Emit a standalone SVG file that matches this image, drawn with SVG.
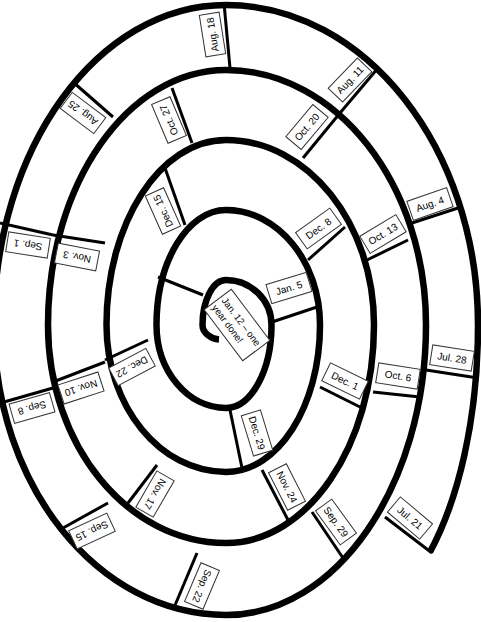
<svg xmlns="http://www.w3.org/2000/svg" width="481" height="622" viewBox="0 0 481 622">
<style>
.sp{fill:none;stroke:#000;stroke-width:6.5;stroke-linecap:butt;stroke-linejoin:round}
.dv{stroke:#000;stroke-width:3;stroke-linecap:butt}
.bx{fill:#fff;stroke:#333;stroke-width:1}
.lb{font-family:"Liberation Sans",Arial,sans-serif;font-size:10px;fill:#000;text-anchor:middle;dominant-baseline:central}
.lb2{font-family:"Liberation Sans",Arial,sans-serif;font-size:9.5px;fill:#000}
</style>
<rect width="481" height="622" fill="#fff"/>
<g id="spiral">
<path class="sp" d="M219,339.5 C211,339 202.5,333 202.5,325 C202.5,300.1 213,280 226,280 C251.1,280 271.5,300.1 271.5,325 C271.5,370.8 251.1,408 226,408 C187.6,408 156.5,370.8 156.5,325 C156.5,261.5 187.6,210 226,210 C277.9,210 320,261.5 320,325 C320,406.2 277.9,472 226,472 C160,472 106.5,406.2 106.5,325 C106.5,222.8 160,140 226,140 C307.7,140 374,222.8 374,325 C374,445.4 307.7,543 226,543 C127.7,543 48,445.4 48,325 C48,184.2 127.7,70 226,70 C336.5,70 426,184.2 426,325 C426,485.2 336.5,615 226,615 C97.9,615 -6,485.2 -6,325 C-6,148.3 97.9,5 226,5 C365.2,5 478,148.3 478,325 C478,420 458,500 430,552"/>
</g>
<g id="dividers">
<line class="dv" x1="385" y1="517" x2="432" y2="553"/>
<line class="dv" x1="426" y1="370" x2="478" y2="378"/>
<line class="dv" x1="412" y1="223" x2="458" y2="208"/>
<line class="dv" x1="378" y1="68" x2="340" y2="113"/>
<line class="dv" x1="340" y1="113" x2="303" y2="158"/>
<line class="dv" x1="224" y1="3" x2="230" y2="68"/>
<line class="dv" x1="73" y1="82" x2="113" y2="117"/>
<line class="dv" x1="172" y1="88" x2="192" y2="143"/>
<line class="dv" x1="0" y1="223" x2="53" y2="235"/>
<line class="dv" x1="53" y1="235" x2="105" y2="243"/>
<line class="dv" x1="165" y1="168" x2="185" y2="225"/>
<line class="dv" x1="158" y1="277" x2="203" y2="295"/>
<line class="dv" x1="105" y1="360" x2="148" y2="340"/>
<line class="dv" x1="53" y1="382" x2="105" y2="362"/>
<line class="dv" x1="4" y1="402" x2="53" y2="388"/>
<line class="dv" x1="63" y1="528" x2="108" y2="503"/>
<line class="dv" x1="157" y1="465" x2="125" y2="507"/>
<line class="dv" x1="197" y1="553" x2="173" y2="610"/>
<line class="dv" x1="230" y1="410" x2="242" y2="468"/>
<line class="dv" x1="262" y1="470" x2="288" y2="520"/>
<line class="dv" x1="312" y1="512" x2="343" y2="558"/>
<line class="dv" x1="320" y1="387" x2="362" y2="408"/>
<line class="dv" x1="373" y1="392" x2="420" y2="397"/>
<line class="dv" x1="367" y1="260" x2="408" y2="240"/>
<line class="dv" x1="308" y1="260" x2="345" y2="227"/>
<line class="dv" x1="272" y1="322" x2="317" y2="307"/>
</g>
<g id="jul21" transform="translate(410,518) rotate(40)"><rect class="bx" x="-21" y="-10" width="42" height="20"/><text class="lb">Jul. 21</text></g>
<g id="jul28" transform="translate(452,358) rotate(9)"><rect class="bx" x="-21" y="-10" width="42" height="20"/><text class="lb">Jul. 28</text></g>
<g id="aug4" transform="translate(430,204) rotate(-19)"><rect class="bx" x="-21" y="-10" width="42" height="20"/><text class="lb">Aug. 4</text></g>
<g id="aug11" transform="translate(350,80) rotate(-46)"><rect class="bx" x="-21" y="-10" width="42" height="20"/><text class="lb">Aug. 11</text></g>
<g id="aug18" transform="translate(212.5,34.5) rotate(-99)"><rect class="bx" x="-21" y="-10" width="42" height="20"/><text class="lb">Aug. 18</text></g>
<g id="aug25" transform="translate(83,113) rotate(217)"><rect class="bx" x="-21" y="-10" width="42" height="20"/><text class="lb">Aug. 25</text></g>
<g id="sep1" transform="translate(28,245) rotate(189)"><rect class="bx" x="-21" y="-10" width="42" height="20"/><text class="lb">Sep. 1</text></g>
<g id="sep8" transform="translate(32,408) rotate(164)"><rect class="bx" x="-21" y="-10" width="42" height="20"/><text class="lb">Sep. 8</text></g>
<g id="sep15" transform="translate(92,531) rotate(155)"><rect class="bx" x="-21" y="-10" width="42" height="20"/><text class="lb">Sep. 15</text></g>
<g id="sep22" transform="translate(202,586) rotate(113)"><rect class="bx" x="-21" y="-10" width="42" height="20"/><text class="lb">Sep. 22</text></g>
<g id="sep29" transform="translate(336,522) rotate(54)"><rect class="bx" x="-21" y="-10" width="42" height="20"/><text class="lb">Sep. 29</text></g>
<g id="oct6" transform="translate(398,376) rotate(9)"><rect class="bx" x="-21" y="-10" width="42" height="20"/><text class="lb">Oct. 6</text></g>
<g id="oct13" transform="translate(383,234) rotate(-31)"><rect class="bx" x="-21" y="-10" width="42" height="20"/><text class="lb">Oct. 13</text></g>
<g id="oct20" transform="translate(307,127) rotate(-50)"><rect class="bx" x="-21" y="-10" width="42" height="20"/><text class="lb">Oct. 20</text></g>
<g id="oct27" transform="translate(169,120) rotate(-113)"><rect class="bx" x="-21" y="-10" width="42" height="20"/><text class="lb">Oct. 27</text></g>
<g id="nov3" transform="translate(77,257) rotate(191)"><rect class="bx" x="-21" y="-10" width="42" height="20"/><text class="lb">Nov. 3</text></g>
<g id="nov10" transform="translate(81,388) rotate(162)"><rect class="bx" x="-21" y="-10" width="42" height="20"/><text class="lb">Nov. 10</text></g>
<g id="nov17" transform="translate(155,494) rotate(120)"><rect class="bx" x="-21" y="-10" width="42" height="20"/><text class="lb">Nov. 17</text></g>
<g id="nov24" transform="translate(287,487) rotate(63)"><rect class="bx" x="-21" y="-10" width="42" height="20"/><text class="lb">Nov. 24</text></g>
<g id="dec1" transform="translate(345,381) rotate(26)"><rect class="bx" x="-21" y="-10" width="42" height="20"/><text class="lb">Dec. 1</text></g>
<g id="dec8" transform="translate(318.5,228.5) rotate(-35.5)"><rect class="bx" x="-21" y="-10" width="42" height="20"/><text class="lb">Dec. 8</text></g>
<g id="dec15" transform="translate(163,211) rotate(-114)"><rect class="bx" x="-21" y="-10" width="42" height="20"/><text class="lb">Dec. 15</text></g>
<g id="dec22" transform="translate(132,367) rotate(152)"><rect class="bx" x="-21" y="-10" width="42" height="20"/><text class="lb">Dec. 22</text></g>
<g id="dec29" transform="translate(257,433) rotate(73)"><rect class="bx" x="-21" y="-10" width="42" height="20"/><text class="lb">Dec. 29</text></g>
<g id="jan5" transform="translate(289,288) rotate(-17)"><rect class="bx" x="-21" y="-10" width="42" height="20"/><text class="lb">Jan. 5</text></g>
<g id="jan12" transform="translate(237,325) rotate(53)"><rect class="bx" x="-32" y="-17" width="64" height="34"/><text class="lb2" x="-29" y="-2">Jan. 12 – one</text><text class="lb2" x="-29" y="10">year done!</text></g>
</svg>
